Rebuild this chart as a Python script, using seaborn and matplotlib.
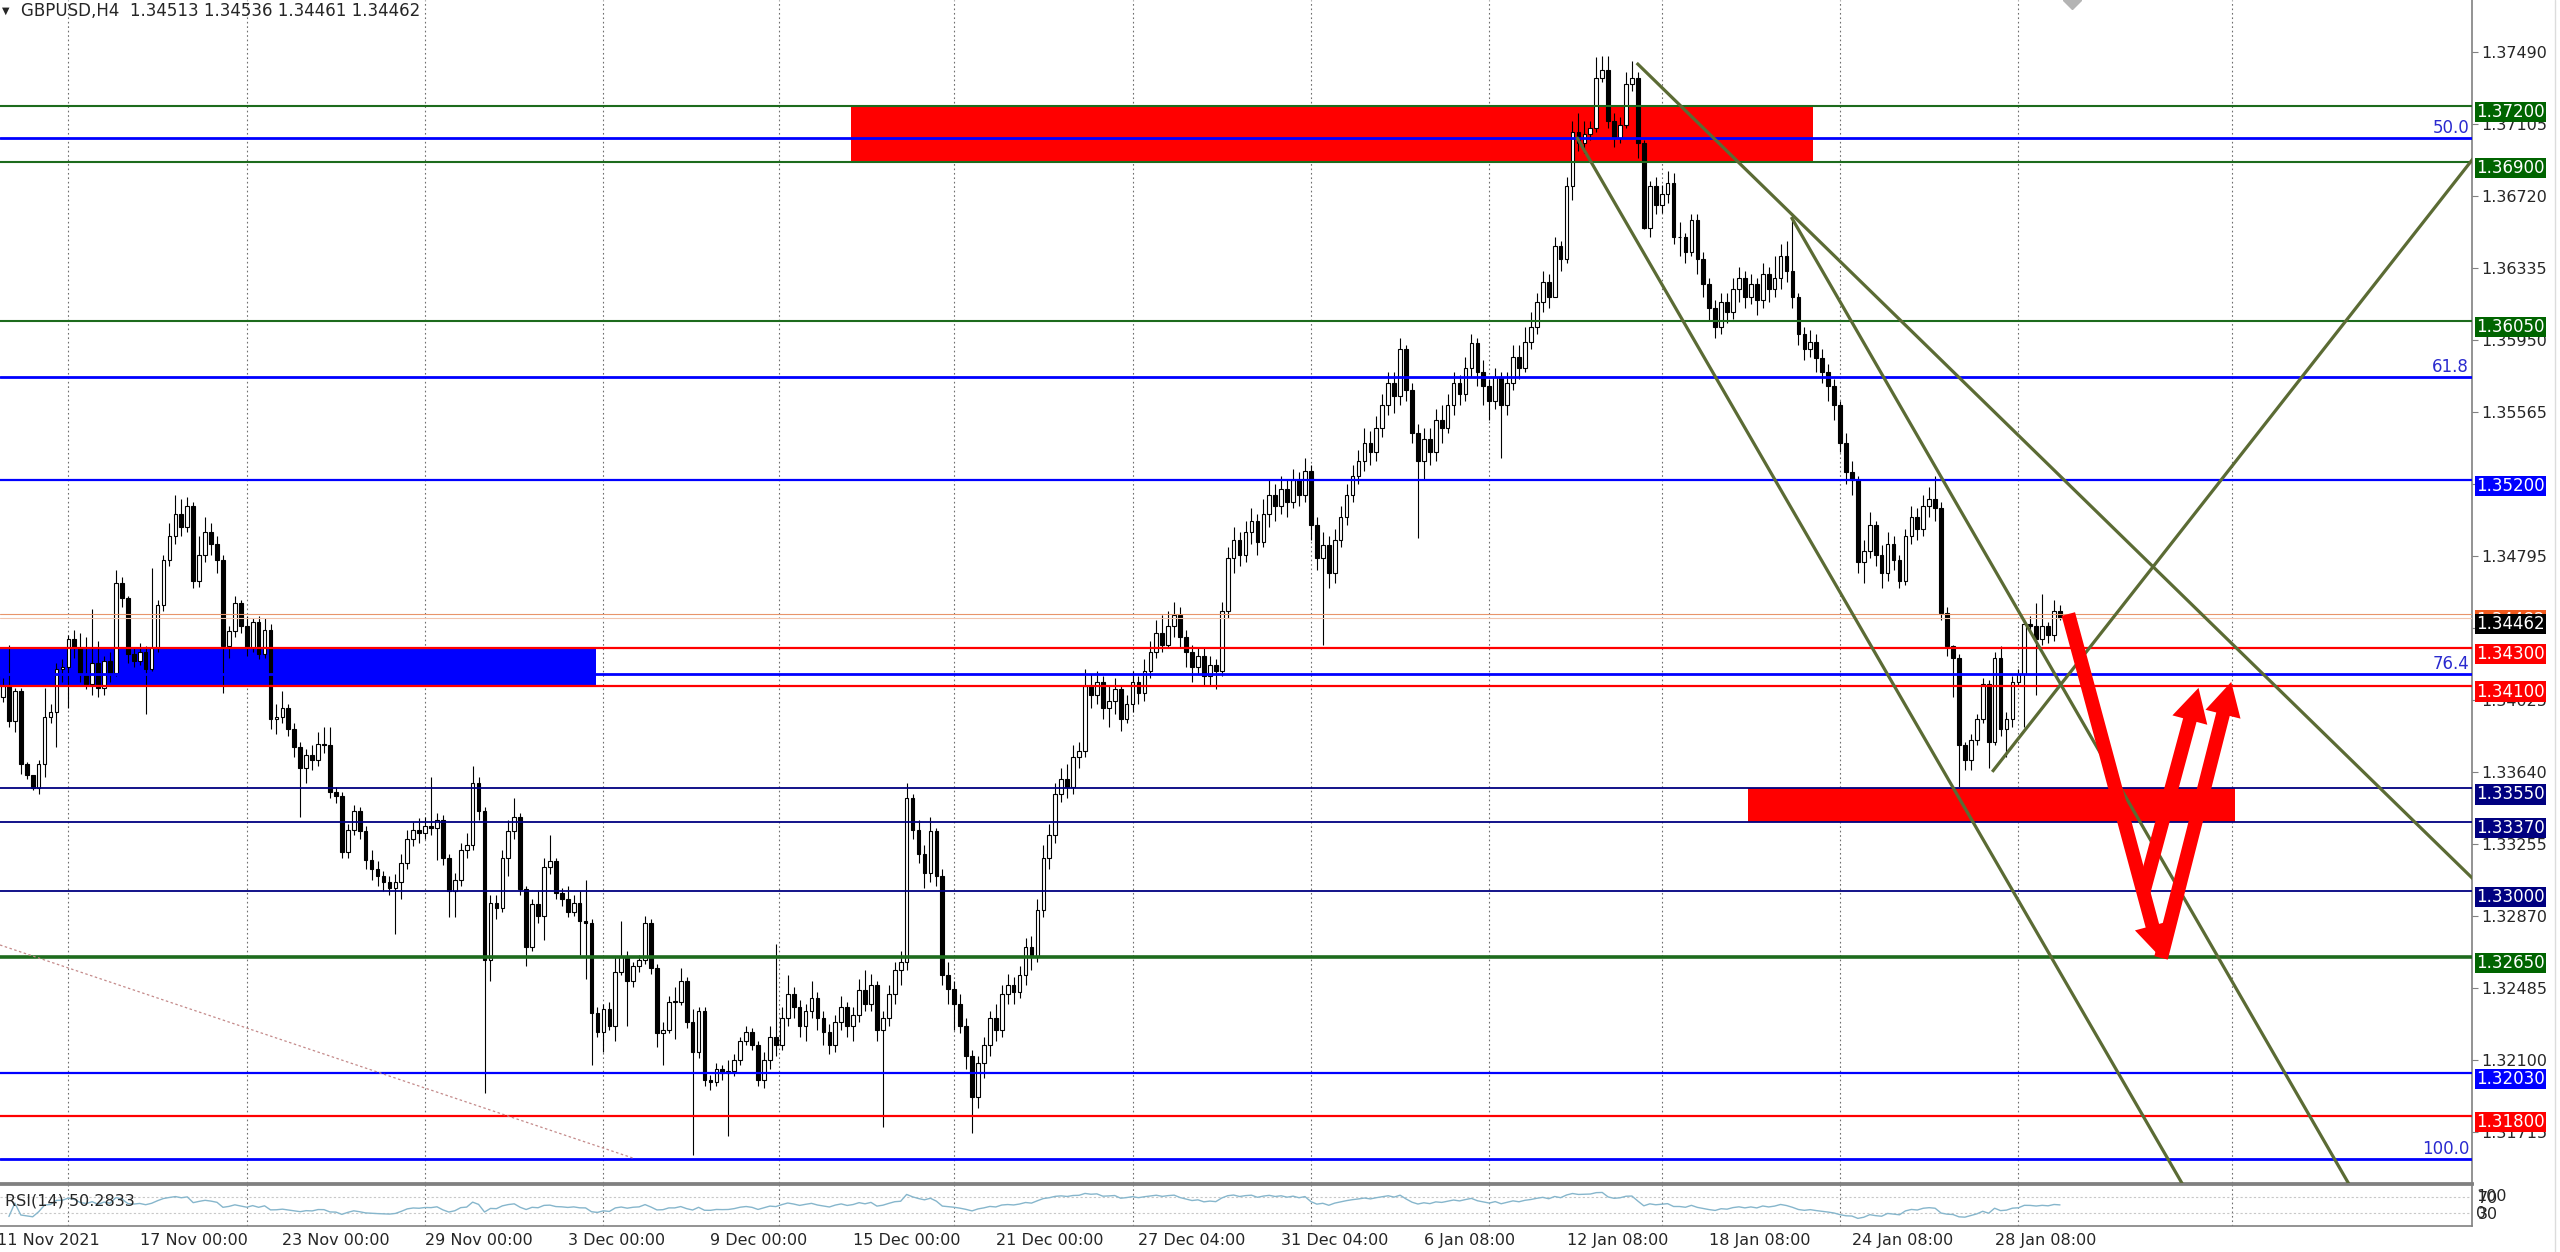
"""
GBPUSD H4 chart (MetaTrader look) redrawn with matplotlib / seaborn.
"""
import numpy as np
import pandas as pd
import matplotlib
matplotlib.use('Agg')
import matplotlib.pyplot as plt
import seaborn as sns
from matplotlib.patches import Rectangle, FancyArrowPatch
from matplotlib.lines import Line2D

SYMBOL = 'GBPUSD,H4'
HEADER_OHLC = [1.34513, 1.34536, 1.34461, 1.34462]

# H4 candles, values in pips above 1.30000 (open = previous close)
OPEN_FIRST = 415
CLOSE = [
    404, 410, 391, 407, 368, 362, 355, 368, 393, 396, 419, 420,
    435, 430, 416, 411, 422, 409, 423, 417, 465, 457, 427, 423,
    428, 419, 430, 453, 477, 490, 502, 495, 506, 466, 480, 492,
    486, 477, 431, 439, 454, 442, 430, 444, 427, 440, 392, 393,
    398, 387, 377, 366, 373, 370, 379, 378, 353, 351, 321, 333,
    343, 332, 317, 312, 308, 305, 302, 305, 315, 328, 333, 331,
    335, 334, 338, 318, 300, 306, 322, 325, 358, 343, 263, 294,
    291, 318, 332, 340, 301, 270, 293, 287, 313, 316, 299, 296,
    289, 294, 284, 283, 235, 225, 237, 228, 257, 265, 252, 260,
    263, 283, 259, 224, 226, 241, 241, 252, 230, 214, 236, 199,
    198, 205, 203, 204, 210, 220, 225, 218, 199, 210, 222, 218,
    232, 245, 238, 228, 236, 243, 232, 225, 218, 230, 238, 228,
    234, 247, 240, 250, 226, 232, 245, 258, 262, 350, 333, 320,
    310, 332, 308, 255, 248, 240, 228, 212, 190, 208, 218, 232,
    226, 245, 250, 246, 255, 270, 265, 290, 318, 330, 352, 360,
    356, 372, 375, 410, 405, 412, 398, 402, 408, 392, 400, 412,
    406, 418, 428, 438, 432, 442, 448, 436, 428, 420, 426, 415,
    421, 418, 450, 478, 488, 480, 492, 498, 487, 502, 512, 506,
    515, 508, 520, 512, 525, 496, 478, 485, 470, 488, 500, 512,
    522, 530, 540, 535, 548, 560, 572, 565, 590, 568, 545, 530,
    542, 535, 552, 548, 560, 572, 566, 580, 593, 578, 570, 562,
    575, 560, 572, 586, 580, 594, 602, 615, 626, 618, 645, 638,
    677, 706, 700, 705, 708, 735, 739, 712, 703, 710, 732, 735,
    700, 655, 677, 667, 673, 679, 650, 650, 642, 659, 638, 625,
    612, 602, 615, 610, 622, 628, 618, 625, 616, 630, 622, 628,
    640, 632, 618, 598, 590, 594, 585, 578, 570, 560, 540, 524,
    520, 476, 482, 496, 480, 470, 486, 477, 466, 490, 500, 494,
    506, 510, 505, 449, 431, 425, 378, 370, 381, 392, 411, 380,
    425, 387, 392, 412, 416, 443, 442, 435, 442, 437, 450, 446,
]
HIGH = [
    425, 414, 432, 409, 409, 369, 361, 370, 409, 400, 422, 424,
    437, 440, 438, 436, 451, 434, 426, 428, 472, 468, 458, 430,
    433, 431, 473, 456, 480, 497, 512, 510, 511, 508, 490, 500,
    497, 490, 480, 442, 458, 456, 447, 446, 447, 446, 443, 400,
    407, 400, 390, 380, 376, 378, 385, 388, 388, 356, 353, 336,
    346, 345, 335, 322, 316, 311, 308, 309, 320, 333, 337, 339,
    340, 361, 342, 341, 320, 310, 326, 331, 367, 361, 345, 298,
    298, 322, 338, 350, 342, 303, 296, 300, 318, 330, 318, 302,
    303, 298, 300, 306, 285, 238, 240, 241, 265, 284, 268, 262,
    266, 287, 285, 261, 230, 244, 249, 259, 254, 237, 238, 238,
    202, 208, 207, 210, 213, 222, 228, 227, 220, 214, 228, 272,
    238, 255, 249, 242, 240, 252, 246, 236, 229, 234, 244, 241,
    238, 253, 258, 256, 252, 236, 250, 262, 268, 358, 352, 338,
    325, 340, 334, 312, 262, 252, 245, 232, 215, 212, 222, 236,
    240, 250, 256, 254, 260, 275, 276, 296, 325, 336, 358, 366,
    368, 378, 380, 419, 416, 418, 415, 410, 414, 410, 405, 418,
    415, 424, 434, 445, 448, 450, 455, 452, 440, 432, 430, 430,
    426, 424, 455, 484, 495, 492, 498, 505, 502, 510, 520, 518,
    522, 520, 526, 524, 532, 528, 500, 492, 490, 494, 506, 518,
    528, 536, 548, 546, 554, 566, 578, 578, 596, 592, 572, 550,
    548, 548, 558, 560, 566, 578, 576, 586, 598, 596, 584, 574,
    580, 578, 578, 592, 592, 602, 610, 620, 632, 630, 650, 648,
    682, 712, 716, 712, 712, 746, 747, 747, 716, 714, 738, 744,
    738, 702, 680, 682, 678, 685, 684, 658, 652, 662, 662, 642,
    628, 616, 620, 620, 628, 634, 632, 630, 628, 636, 634, 640,
    646, 648, 663, 620, 602, 600, 598, 590, 582, 574, 562, 545,
    530, 522, 488, 503, 498, 485, 492, 490, 480, 494, 506, 505,
    512, 516, 522, 508, 452, 432, 427, 380, 384, 395, 414, 413,
    428, 431, 396, 415, 419, 446, 447, 454, 459, 444, 456, 453,
]
LOW = [
    400, 401, 388, 385, 363, 360, 354, 352, 361, 390, 377, 412,
    398, 425, 412, 408, 405, 404, 405, 412, 415, 452, 422, 420,
    421, 395, 418, 428, 450, 474, 486, 490, 492, 462, 463, 476,
    480, 470, 406, 425, 436, 438, 426, 428, 424, 425, 387, 384,
    390, 383, 372, 340, 358, 365, 367, 374, 350, 347, 318, 318,
    330, 328, 312, 306, 303, 300, 298, 277, 296, 312, 324, 326,
    328, 330, 317, 314, 286, 286, 303, 318, 322, 338, 192, 252,
    285, 289, 308, 328, 298, 260, 268, 283, 274, 309, 296, 292,
    286, 287, 266, 253, 207, 222, 214, 226, 220, 255, 228, 249,
    257, 261, 256, 217, 207, 224, 221, 239, 227, 159, 211, 196,
    194, 196, 199, 169, 201, 207, 218, 215, 196, 195, 205, 212,
    215, 228, 232, 222, 220, 232, 226, 218, 213, 214, 226, 222,
    220, 230, 236, 236, 220, 174, 228, 240, 250, 258, 328, 315,
    302, 305, 303, 250, 240, 226, 224, 205, 171, 184, 200, 212,
    220, 222, 240, 240, 243, 250, 258, 262, 286, 312, 326, 348,
    350, 352, 366, 372, 398, 400, 392, 388, 395, 386, 390, 396,
    400, 402, 414, 425, 428, 430, 436, 430, 420, 412, 416, 410,
    410, 408, 415, 446, 470, 474, 476, 486, 480, 484, 495, 498,
    502, 500, 505, 506, 508, 488, 472, 432, 462, 465, 484, 496,
    508, 518, 525, 528, 530, 543, 555, 556, 560, 562, 540, 489,
    520, 528, 530, 540, 545, 555, 560, 562, 575, 570, 560, 552,
    558, 532, 555, 568, 574, 578, 590, 598, 610, 612, 625, 632,
    636, 670, 696, 695, 702, 706, 733, 708, 698, 700, 708, 728,
    692, 654, 650, 662, 663, 668, 646, 640, 636, 640, 630, 618,
    605, 596, 598, 604, 606, 615, 612, 614, 608, 612, 615, 618,
    622, 626, 612, 592, 584, 586, 578, 572, 562, 552, 535, 518,
    512, 470, 465, 478, 474, 462, 466, 472, 462, 464, 486, 488,
    490, 500, 498, 445, 426, 404, 356, 365, 365, 378, 390, 366,
    378, 383, 372, 388, 410, 388, 438, 405, 432, 433, 434, 445,
]

DATE_LABELS = ['11 Nov 2021', '17 Nov 00:00', '23 Nov 00:00', '29 Nov 00:00',
               '3 Dec 00:00', '9 Dec 00:00', '15 Dec 00:00', '21 Dec 00:00',
               '27 Dec 04:00', '31 Dec 04:00', '6 Jan 08:00', '12 Jan 08:00',
               '18 Jan 08:00', '24 Jan 08:00', '28 Jan 08:00']
DATE_BARS = [0, 24, 48, 72, 96, 120, 144, 168, 192, 216, 240, 264, 288, 312, 336]
WEEK_BARS = [12, 42, 72, 102, 131.5, 161, 191, 221, 251, 280, 310, 340, 376]

PRICE_TICKS = [1.37490, 1.37105, 1.36720, 1.36335, 1.35950, 1.35565, 1.35180, 1.34795,
               1.34410, 1.34025, 1.33640, 1.33255, 1.32870, 1.32485, 1.32100, 1.31715]

GREEN_LEVELS = [1.3720, 1.3690, 1.3605, 1.3265]
BLUE_LEVELS = [1.3520, 1.3203]
NAVY_LEVELS = [1.3355, 1.3337, 1.3300]
RED_LEVELS = [1.3430, 1.3410, 1.3180]
FIB_NAMES = ['50.0', '61.8', '76.4', '100.0']
FIB_PRICES = [1.3703, 1.3575, 1.3416, 1.3157]
BID, ASK = 1.34462, 1.34482

# zones: (first bar, last bar, low price, high price)
RED_ZONE_HIGH = (143.7, 305.5, 1.3690, 1.3720)
RED_ZONE_LOW = (294.6, 376.5, 1.3337, 1.3355)
BLUE_ZONE = (0.0, 100.8, 1.3410, 1.3430)

# trend lines as two anchor points (bar, price)
TREND_TOP = [(275.8, 1.37430), (416.3, 1.33072)]
TREND_LOW = [(265.7, 1.37034), (319.8, 1.34061)]
TREND_MID = [(301.8, 1.36606), (375.8, 1.32526)]
TREND_UP = [(335.6, 1.33639), (416.3, 1.36911)]
OLD_LINE = [(0.5, 1.32713), (106.9, 1.31574)]

# forecast arrows (bar, price) -> (bar, price)
ARROWS = [((348.4, 1.34483), (364.0, 1.32644)),
          ((361.0, 1.32991), (370.3, 1.34088)),
          ((364.0, 1.32644), (375.8, 1.34120))]

RSI_TEXT = 'RSI(14) 50.2833'

# ---------------------------------------------------------------------------
sns.set_style('white')
plt.rcParams['font.family'] = ['DejaVu Sans']

W, H = 2560, 1252
X_MAX = 416.3
Y_LIM = (1.31440, 1.37767)

close = 1.3 + np.array(CLOSE) / 1e4
opn = 1.3 + np.array([OPEN_FIRST] + CLOSE[:-1]) / 1e4
high = np.maximum(1.3 + np.array(HIGH) / 1e4, np.maximum(opn, close))
low = np.minimum(1.3 + np.array(LOW) / 1e4, np.minimum(opn, close))
bars = np.arange(len(close))

fig = plt.figure(figsize=(W / 100, H / 100), dpi=100, facecolor='white')
ax = fig.add_axes([0, 1 - 1183 / H, 2472 / W, 1183 / H])
ax_rsi = fig.add_axes([0, 1 - 1226 / H, 2472 / W, 42 / H])

ax.set_xlim(0.5, X_MAX)
ax.set_ylim(*Y_LIM)

# weekly separators
for a in (ax, ax_rsi):
    for b in WEEK_BARS:
        a.axvline(b, color='#6e6e6e', lw=0.8, ls=(0, (1.5, 2.5)), zorder=0.5)

# background zones
for x0, x1, p0, p1, col in [RED_ZONE_HIGH + ('#ff0000',), RED_ZONE_LOW + ('#ff0000',),
                            BLUE_ZONE + ('#0000ff',)]:
    ax.add_patch(Rectangle((x0, p0), x1 - x0, p1 - p0, fc=col, ec='none', zorder=1))

# candles
ax.vlines(bars, low, high, color='black', lw=0.8, zorder=2)
up = close >= opn
body = np.maximum(np.abs(close - opn), 0.00002)
ax.bar(bars, body, bottom=np.minimum(opn, close), width=0.62,
       color=np.where(up, 'white', 'black'), edgecolor='black', linewidth=0.8, zorder=2.2)

# horizontal levels
for p in GREEN_LEVELS:
    ax.axhline(p, color='#1d6b1d', lw=2.6 if p == 1.3265 else 1.5, zorder=3)
for p in BLUE_LEVELS:
    ax.axhline(p, color='#0000ff', lw=1.6, zorder=3)
for p in NAVY_LEVELS:
    ax.axhline(p, color='#000080', lw=1.3, zorder=3)
for p in RED_LEVELS:
    ax.axhline(p, color='#ff0000', lw=1.6, zorder=3)
for p in FIB_PRICES:
    ax.axhline(p, color='#0000ff', lw=2.0, zorder=3)
ax.axhline(ASK, color='#e8956b', lw=0.8, zorder=3)
ax.axhline(BID, color='#f2c4ad', lw=0.8, zorder=3)

# trend lines
def ray(a, pts, **kw):
    (x1, y1), (x2, y2) = pts
    k = (y2 - y1) / (x2 - x1)
    a.plot([x1, 440], [y1, y1 + k * (440 - x1)], **kw)

for pts in (TREND_TOP, TREND_LOW, TREND_MID, TREND_UP):
    ray(ax, pts, color='#5b6b34', lw=2.3, zorder=3.5, solid_capstyle='butt')
ax.plot(*zip(*OLD_LINE), color='#c48a8a', lw=0.9, ls=(0, (2, 2)), zorder=3)

# arrows
for start, end in ARROWS:
    ax.add_patch(FancyArrowPatch(start, end, arrowstyle='simple,head_length=2.4,head_width=2.6,tail_width=1.0',
                                 mutation_scale=10, color='#ff0000', lw=0, shrinkA=0, shrinkB=0, zorder=5))

# price axis
ax.yaxis.tick_right()
ax.set_yticks(PRICE_TICKS)
ax.set_yticklabels([f'{p:.5f}' for p in PRICE_TICKS])
ax.tick_params(axis='y', length=4, width=0.8, color='#808080', labelsize=11.5, pad=3)
ax.set_xticks([])
for s in ('left', 'top'):
    ax.spines[s].set_visible(False)
ax.spines['right'].set_color('#808080')
ax.spines['right'].set_linewidth(1.2)
ax.spines['bottom'].set_color('#808080')
ax.spines['bottom'].set_linewidth(2.0)

def price_box(price, face):
    ax.annotate(f'{price:.5f}', xy=(1, price), xycoords=('axes fraction', 'data'),
                xytext=(4, -6), textcoords='offset pixels', ha='left', va='center',
                fontsize=12, color='white', zorder=6, annotation_clip=False,
                bbox=dict(boxstyle='square,pad=0.07', fc=face, ec='none'))

for p in GREEN_LEVELS:
    price_box(p, '#006400')
for p in BLUE_LEVELS:
    price_box(p, '#0000ff')
for p in NAVY_LEVELS:
    price_box(p, '#000080')
for p in RED_LEVELS:
    price_box(p, '#ff0000')
price_box(ASK, '#f05a1e')
price_box(BID, '#000000')

for name, p in zip(FIB_NAMES, FIB_PRICES):
    ax.annotate(name, xy=(1, p), xycoords=('axes fraction', 'data'), xytext=(-3, 1),
                textcoords='offset pixels', ha='right', va='bottom', fontsize=12,
                color='#2a2acf', zorder=6)

# chart-shift marker at the top
ax.plot([349], [Y_LIM[1]], marker='D', ms=9, color='#b4b4b4', zorder=6, clip_on=True)

# RSI panel
s = pd.Series(close)
delta = s.diff().fillna(0)
gain = delta.clip(lower=0).ewm(alpha=1 / 14, adjust=False).mean()
loss = (-delta.clip(upper=0)).ewm(alpha=1 / 14, adjust=False).mean()
rsi = 100 - 100 / (1 + gain / loss.replace(0, np.nan))
rsi_df = pd.DataFrame({'bar': bars[2:], 'rsi': rsi.values[2:]})
sns.lineplot(data=rsi_df, x='bar', y='rsi', ax=ax_rsi, color='#86b6cc', lw=1.0)
ax_rsi.set_xlim(0.5, X_MAX)
ax_rsi.set_ylim(0, 100)
for lvl in (70, 30):
    ax_rsi.axhline(lvl, color='#c8c8c8', lw=0.8, ls=(0, (2, 2)), zorder=0.5)
ax_rsi.set_xlabel('')
ax_rsi.set_ylabel('')
ax_rsi.yaxis.tick_right()
ax_rsi.set_yticks([70, 30])
ax_rsi.set_yticklabels(['70', '30'])
for lvl, txt in ((70, '100'), (30, '0')):
    ax_rsi.annotate(txt, xy=(1, lvl), xycoords=('axes fraction', 'data'), xytext=(4, 0),
                    textcoords='offset pixels', ha='left', va='center', fontsize=11.5,
                    annotation_clip=False)
ax_rsi.tick_params(axis='y', length=0, labelsize=11.5, pad=4)
ax_rsi.set_xticks([b for b in DATE_BARS if b > 0.5])
ax_rsi.set_xticklabels([])
ax_rsi.tick_params(axis='x', length=4, width=0.8, color='#808080')
ax_rsi.spines['left'].set_visible(False)
for sname in ('right', 'bottom'):
    ax_rsi.spines[sname].set_color('#808080')
    ax_rsi.spines[sname].set_linewidth(1.2)
ax_rsi.spines['top'].set_color('#808080')
ax_rsi.spines['top'].set_linewidth(2.0)
ax_rsi.text(0.002, 0.60, RSI_TEXT, transform=ax_rsi.transAxes, fontsize=11.5, va='center')

for b, lab in zip(DATE_BARS, DATE_LABELS):
    ax_rsi.annotate(lab, xy=(b, 0), xycoords=('data', 'axes fraction'), xytext=(0, -7),
                    textcoords='offset pixels', ha='left', va='top', fontsize=11.5,
                    annotation_clip=False)

# header
fig.text(2 / W, 1 - 11 / H, '\u25bc', fontsize=7, va='center')
fig.text(21 / W, 1 - 11 / H, SYMBOL + '  ' + ' '.join(f'{v:.5f}' for v in HEADER_OHLC),
         fontsize=12, va='center')
fig.add_artist(Line2D([2555 / W] * 2, [0, 1], color='#dcdcdc', lw=1, transform=fig.transFigure))

fig.savefig('out.png', dpi=100, facecolor='white')
